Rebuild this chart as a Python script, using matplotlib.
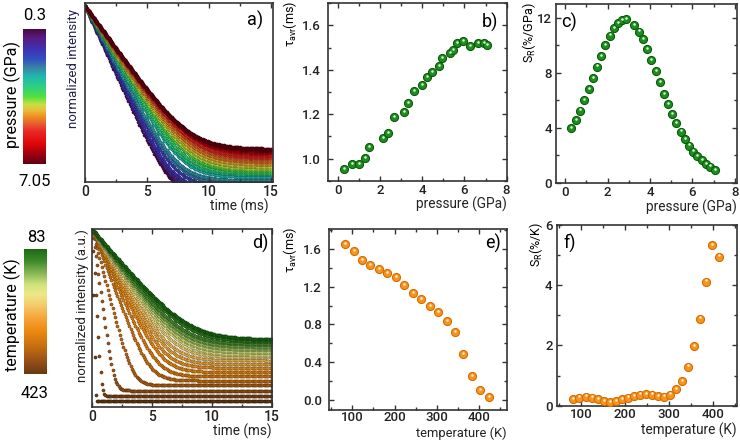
import matplotlib.pyplot as plt
import numpy as np
import matplotlib.transforms as mtransforms
from matplotlib.colors import LinearSegmentedColormap
from matplotlib.ticker import MultipleLocator, NullLocator

plt.rcParams.update({
    'font.family': ['Roboto', 'DejaVu Sans'],
    'mathtext.default': 'regular',
    'axes.linewidth': 1.2,
    'axes.edgecolor': '#333333',
})

W, H = 740, 441

# b) average lifetime vs pressure (also the lifetimes of the decays in a)
pressure_b = [0.30, 0.68, 1.00, 1.30, 1.49, 2.14, 2.36, 2.67, 3.14, 3.33, 3.62, 3.97,
              4.22, 4.48, 4.81, 4.92, 5.30, 5.46, 5.65, 5.92, 6.25, 6.62, 6.92, 7.05]
tau_b = [0.955, 0.976, 0.976, 1.003, 1.051, 1.093, 1.117, 1.187, 1.211, 1.250, 1.305, 1.330,
         1.366, 1.390, 1.415, 1.453, 1.474, 1.489, 1.519, 1.529, 1.505, 1.519, 1.519, 1.511]
# a) background level (log10) where each decay flattens
floor_a = [-3.20, -3.15, -3.10, -3.05, -3.00, -2.95, -2.90, -2.85, -2.80, -2.78, -2.75, -2.72,
           -2.68, -2.64, -2.60, -2.57, -2.54, -2.51, -2.48, -2.46, -2.44, -2.42, -2.40, -2.38]

# c) relative sensitivity vs pressure
pressure_c = [0.30, 0.52, 0.71, 0.91, 1.12, 1.32, 1.51, 1.70, 1.90, 2.12, 2.29, 2.50,
              2.69, 2.89, 3.25, 3.46, 3.65, 3.85, 4.06, 4.26, 4.45, 4.64, 4.86, 5.05,
              5.24, 5.44, 5.63, 5.83, 6.02, 6.23, 6.43, 6.62, 6.84, 7.06]
sr_c = [4.00, 4.58, 5.26, 6.04, 6.81, 7.61, 8.46, 9.24, 10.04, 10.71, 11.25, 11.61,
        11.85, 11.90, 11.49, 11.00, 10.45, 9.72, 8.95, 8.15, 7.30, 6.47, 5.72, 5.02,
        4.34, 3.73, 3.20, 2.72, 2.28, 1.94, 1.67, 1.38, 1.19, 0.95]

# e) average lifetime vs temperature (also the lifetimes of the decays in d)
temp_e = [83, 103, 123, 143, 163, 183, 203, 223, 243, 263, 283, 303, 323, 343, 363, 383, 403, 423]
tau_e = [1.653, 1.573, 1.481, 1.429, 1.383, 1.341, 1.299, 1.215, 1.131, 1.068, 0.998, 0.932,
         0.837, 0.718, 0.490, 0.256, 0.105, 0.035]
# d) background level (log10) where each decay flattens
floor_d = [-2.08, -2.12, -2.17, -2.22, -2.27, -2.32, -2.37, -2.42, -2.48, -2.55, -2.62, -2.70,
           -2.78, -2.86, -2.95, -3.05, -3.15, -3.25]

# f) relative sensitivity vs temperature
temp_f = [83.0, 96.75, 110.5, 124.25, 138.0, 151.75, 165.5, 179.25, 193.0, 206.75, 220.5, 234.25,
          248.0, 261.75, 275.5, 289.25, 303.0, 316.75, 330.5, 344.25, 358.0, 371.75, 385.5, 399.25, 413.0]
sr_f = [0.22, 0.27, 0.30, 0.27, 0.21, 0.16, 0.12, 0.16, 0.21, 0.27, 0.32, 0.37,
        0.39, 0.37, 0.33, 0.30, 0.37, 0.55, 0.82, 1.30, 1.97, 2.89, 4.12, 5.32, 4.95]

time_ms = np.arange(0, 15.05, 0.1)

cmap_p = LinearSegmentedColormap.from_list('press', [
    (0.00, '#4a0a40'), (0.06, '#5a1a80'), (0.14, '#4030b0'), (0.22, '#3050c0'),
    (0.28, '#3a80a8'), (0.35, '#20b8b0'), (0.43, '#30d080'), (0.50, '#50e040'),
    (0.56, '#c8e040'), (0.60, '#e8c040'), (0.65, '#f09020'), (0.70, '#e86030'),
    (0.76, '#e82828'), (0.85, '#e00808'), (0.93, '#a00010'), (1.00, '#600010')])
cmap_t = LinearSegmentedColormap.from_list('temp', [
    (0.00, '#1a6a14'), (0.10, '#3d8a2a'), (0.20, '#8ab858'), (0.29, '#d2e47c'),
    (0.37, '#efe88a'), (0.46, '#f5c868'), (0.56, '#f5a436'), (0.66, '#ec8a10'),
    (0.78, '#c87010'), (0.90, '#955018'), (1.00, '#6a3a10')])

fig = plt.figure(figsize=(W / 100, H / 100), dpi=100)


def px_axes(l, t, r, b):
    return fig.add_axes([l / W, 1 - b / H, (r - l) / W, (b - t) / H])


def style(ax, size=9.5, ypad=3, xpad=2):
    ax.tick_params(which='both', direction='in', top=True, right=True, width=1, colors='#333333',
                   labelcolor='#222222', labelsize=size)
    ax.tick_params(which='major', length=3.5)
    ax.tick_params(which='minor', length=2)
    ax.tick_params(axis='y', pad=ypad)
    ax.tick_params(axis='x', pad=xpad)
    for lab in ax.get_xticklabels() + ax.get_yticklabels():
        lab.set_fontweight('medium')


def xlabel(ax, text, dy, dx=0, size=9.8):
    ax.annotate(text, xy=(1, 0), xycoords='axes fraction', xytext=(dx, -dy),
                textcoords='offset pixels', ha='right', va='center', fontsize=size, color='#222222')


def balls(ax, x, y, face, edge, shine):
    ax.plot(x, y, 'o', ms=5.8, mfc=face, mec=edge, mew=0.8, ls='none', zorder=3)
    off = mtransforms.offset_copy(ax.transData, fig=fig, x=0, y=1.2, units='dots')
    ax.plot(x, y, 'o', ms=1.8, mfc=shine, mec='none', ls='none', transform=off, zorder=4)


def decays(ax, values, taus, floors, cmap, vmin, vmax, order):
    for i in order:
        inten = np.exp(-time_ms / taus[i]) + 10 ** floors[i]
        col = np.array(cmap((values[i] - vmin) / (vmax - vmin)))
        edge = col.copy()
        edge[:3] = edge[:3] * 0.5
        ax.scatter(time_ms, inten, s=5, color=[col], edgecolors=[edge], linewidths=0.35)
    ax.set_yscale('log')
    ax.yaxis.set_major_locator(NullLocator())
    ax.yaxis.set_minor_locator(NullLocator())
    ax.xaxis.set_major_locator(MultipleLocator(5))
    ax.xaxis.set_minor_locator(MultipleLocator(2.5))


def colorbar(l, t, r, b, cmap):
    cax = px_axes(l, t, r, b)
    cax.imshow(np.linspace(0, 1, 200)[:, None], cmap=cmap, aspect='auto')
    cax.set_xticks([])
    cax.set_yticks([])
    for s in cax.spines.values():
        s.set_visible(False)


def ftext(x, y, s, **kw):
    fig.text(x / W, 1 - y / H, s, **kw)


# a)
ax = px_axes(85, 3, 272.5, 182)
decays(ax, pressure_b, tau_b, floor_a, cmap_p, 0.3, 7.05, range(len(tau_b)))
ax.set_xlim(0, 15.15)
ax.set_ylim(10 ** -2.93, 10 ** 0.05)
style(ax, size=10)
xlabel(ax, 'time (ms)', 24, dx=-4)
ftext(255, 20, 'a)', fontsize=13, ha='center', va='center')
ftext(74, 9, 'normalized intensity', rotation=90, ha='center', va='top', fontsize=9.5, color='#22224a')
colorbar(23, 29, 46, 164, cmap_p)
ftext(35, 16, '0.3', ha='center', va='center', fontsize=12)
ftext(35, 182, '7.05', ha='center', va='center', fontsize=12)
ftext(12, 95, 'pressure (GPa)', rotation=90, ha='center', va='center', fontsize=11.5)

# b)
ax = px_axes(328, 3, 507, 181)
balls(ax, pressure_b, tau_b, '#1d8f1d', '#0b5a0b', '#e2f7e2')
ax.set_xlim(-0.48, 8.02)
ax.set_ylim(0.9, 1.7)
ax.xaxis.set_major_locator(MultipleLocator(2))
ax.xaxis.set_minor_locator(MultipleLocator(1))
ax.yaxis.set_major_locator(MultipleLocator(0.2))
ax.yaxis.set_minor_locator(MultipleLocator(0.1))
ax.yaxis.set_major_formatter(lambda v, p: f'{v:.1f}')
style(ax, ypad=5)
xlabel(ax, 'pressure (GPa)', 23)
ftext(490, 22, 'b)', fontsize=13, ha='center', va='center')
ftext(290, 1, r'$\tau_{avr}$(ms)', rotation=90, ha='center', va='top', fontsize=9)

# c)
ax = px_axes(556, 4, 737, 183)
balls(ax, pressure_c, sr_c, '#1d8f1d', '#0b5a0b', '#e2f7e2')
ax.set_xlim(-0.43, 8.1)
ax.set_ylim(0, 13)
ax.xaxis.set_major_locator(MultipleLocator(2))
ax.xaxis.set_minor_locator(MultipleLocator(1))
ax.yaxis.set_major_locator(MultipleLocator(4))
ax.yaxis.set_minor_locator(MultipleLocator(2))
style(ax, ypad=3)
xlabel(ax, 'pressure (GPa)', 24)
ftext(569, 22, 'c)', fontsize=13, ha='center', va='center')
ftext(529, 2, r'$S_R$(%/GPa)', rotation=90, ha='center', va='top', fontsize=9)

# d)
ax = px_axes(92.3, 229, 272, 407)
decays(ax, temp_e, tau_e, floor_d, cmap_t, 83, 423, range(len(tau_e) - 1, -1, -1))
ax.set_xlim(0, 15)
ax.set_ylim(10 ** -3.36, 10 ** 0.01)
style(ax, size=10)
xlabel(ax, 'time (ms)', 24)
ftext(260, 243, 'd)', fontsize=13, ha='center', va='center')
ftext(82, 229, 'normalized intensity (a.u.)', rotation=90, ha='center', va='top', fontsize=9.5,
      color='#222222')
colorbar(24, 249, 47, 374, cmap_t)
ftext(36, 237, '83', ha='center', va='center', fontsize=12)
ftext(35, 394, '423', ha='center', va='center', fontsize=12)
ftext(12, 315, 'temperature (K)', rotation=90, ha='center', va='center', fontsize=11.5)

# e)
ax = px_axes(329, 229, 507, 410)
balls(ax, temp_e, tau_e, '#f7941d', '#d86c00', '#fff1d8')
ax.set_xlim(45, 466)
ax.set_ylim(-0.105, 1.81)
ax.xaxis.set_major_locator(MultipleLocator(100))
ax.xaxis.set_minor_locator(MultipleLocator(50))
ax.yaxis.set_major_locator(MultipleLocator(0.4))
ax.yaxis.set_minor_locator(MultipleLocator(0.2))
ax.yaxis.set_major_formatter(lambda v, p: f'{v:.1f}')
style(ax, ypad=5, xpad=0.5)
xlabel(ax, 'temperature (K)', 23.5, size=9.3)
ftext(493, 243, 'e)', fontsize=13, ha='center', va='center')
ftext(290, 227, r'$\tau_{avr}$(ms)', rotation=90, ha='center', va='top', fontsize=9)

# f)
ax = px_axes(556.7, 225, 737, 405.7)
balls(ax, temp_f, sr_f, '#f7941d', '#d86c00', '#fff1d8')
ax.set_xlim(45, 455)
ax.set_ylim(0, 6)
ax.xaxis.set_major_locator(MultipleLocator(100))
ax.xaxis.set_minor_locator(MultipleLocator(50))
ax.yaxis.set_major_locator(MultipleLocator(2))
ax.yaxis.set_minor_locator(MultipleLocator(1))
style(ax, ypad=3)
xlabel(ax, 'temperature (K)', 25)
ftext(570, 243, 'f)', fontsize=13, ha='center', va='center')
ftext(536, 222, r'$S_R$(%/K)', rotation=90, ha='center', va='top', fontsize=9)

fig.savefig('out.png', dpi=100)
